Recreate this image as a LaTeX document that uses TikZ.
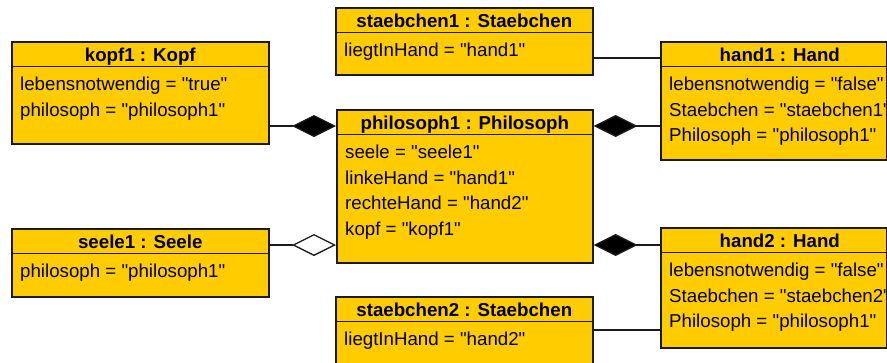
\documentclass[tikz,border=0pt]{standalone}
\usepackage{fontspec}
\setmainfont{Liberation Sans}[Ligatures=TeXOff]
\usetikzlibrary{arrows.meta}
\definecolor{objfill}{HTML}{FFCC00}
\definecolor{objline}{HTML}{1A1A1A}

\tikzset{
  objbox/.style={draw=objline, fill=objfill, line width=1.6pt, rectangle,
    anchor=north west, inner sep=0pt},
  sepline/.style={draw=objline, line width=1.6pt},
  hdrtext/.style={anchor=base, inner sep=0pt,
    font=\bfseries\fontsize{18.7}{22}\selectfont},
  attr/.style={anchor=base west, inner sep=0pt,
    font=\fontsize{18.7}{22}\selectfont},
  link/.style={draw=objline, line width=1.3pt},
  comp/.style={link, -{Diamond[length=44pt, width=22pt, fill=black]}},
  aggr/.style={link, -{Diamond[open, length=44pt, width=22pt, fill=white]}},
}

% object box: name, x, y, width, height, title, title x-offset
\newcommand\umlobject[7]{%
  \node[objbox, minimum width=#4pt, minimum height=#5pt] (#1) at (#2,#3) {};
  \draw[sepline] ([yshift=-25.5pt]#1.north west) -- ([yshift=-25.5pt]#1.north east);
  \node[hdrtext] (#1-title) at ([xshift=#7pt, yshift=-20pt]#1.north) {#6};
}
% attribute line: object name, line number, text
\newcommand\umlattr[3]{%
  \node[attr] (#1-a#2) at ([xshift=9pt, yshift={-49.5pt-(#2-1)*25.5pt}]#1.north west) {#3};
}

\begin{document}
\begin{tikzpicture}[x=1pt, y=-1pt]
  \clip (0,0) rectangle (887,362);
  \fill[white] (0,0) rectangle (887,362);

  % objects
  \umlobject{kopf}{11}{41}{257}{102}{kopf1 : Kopf}{0}
  \umlattr{kopf}{1}{lebensnotwendig = "true"}
  \umlattr{kopf}{2}{philosoph = "philosoph1"}

  \umlobject{staebA}{335}{7}{257}{67}{staebchen1 : Staebchen}{0}
  \umlattr{staebA}{1}{liegtInHand = "hand1"}

  \umlobject{phil}{336}{109}{256}{153}{philosoph1 : Philosoph}{0}
  \umlattr{phil}{1}{seele = "seele1"}
  \umlattr{phil}{2}{linkeHand = "hand1"}
  \umlattr{phil}{3}{rechteHand = "hand2"}
  \umlattr{phil}{4}{kopf = "kopf1"}

  \umlobject{handA}{660}{41}{226}{118}{hand1 : Hand}{6}
  \umlattr{handA}{1}{lebensnotwendig = "false"}
  \umlattr{handA}{2}{Staebchen = "staebchen1"}
  \umlattr{handA}{3}{Philosoph = "philosoph1"}

  \umlobject{seele}{11}{228}{257}{68}{seele1 : Seele}{0}
  \umlattr{seele}{1}{philosoph = "philosoph1"}

  \umlobject{handB}{660}{227}{226}{120}{hand2 : Hand}{6}
  \umlattr{handB}{1}{lebensnotwendig = "false"}
  \umlattr{handB}{2}{Staebchen = "staebchen2"}
  \umlattr{handB}{3}{Philosoph = "philosoph1"}

  \umlobject{staebB}{335}{296}{257}{100}{staebchen2 : Staebchen}{0}
  \umlattr{staebB}{1}{liegtInHand = "hand2"}

  % rows of the links
  \coordinate (rowA) at (0,126);
  \coordinate (rowB) at (0,245);
  \coordinate (rowC) at (0,58);
  \coordinate (rowD) at (0,330);

  % links
  \draw[comp] (kopf.east |- rowA) -- (phil.west |- rowA);
  \draw[aggr] (seele.east |- rowB) -- (phil.west |- rowB);
  \draw[comp] (handA.west |- rowA) -- (phil.east |- rowA);
  \draw[comp] (handB.west |- rowB) -- (phil.east |- rowB);
  \draw[link] (staebA.east |- rowC) -- (handA.west |- rowC);
  \draw[link] (staebB.east |- rowD) -- (handB.west |- rowD);
\end{tikzpicture}
\end{document}
